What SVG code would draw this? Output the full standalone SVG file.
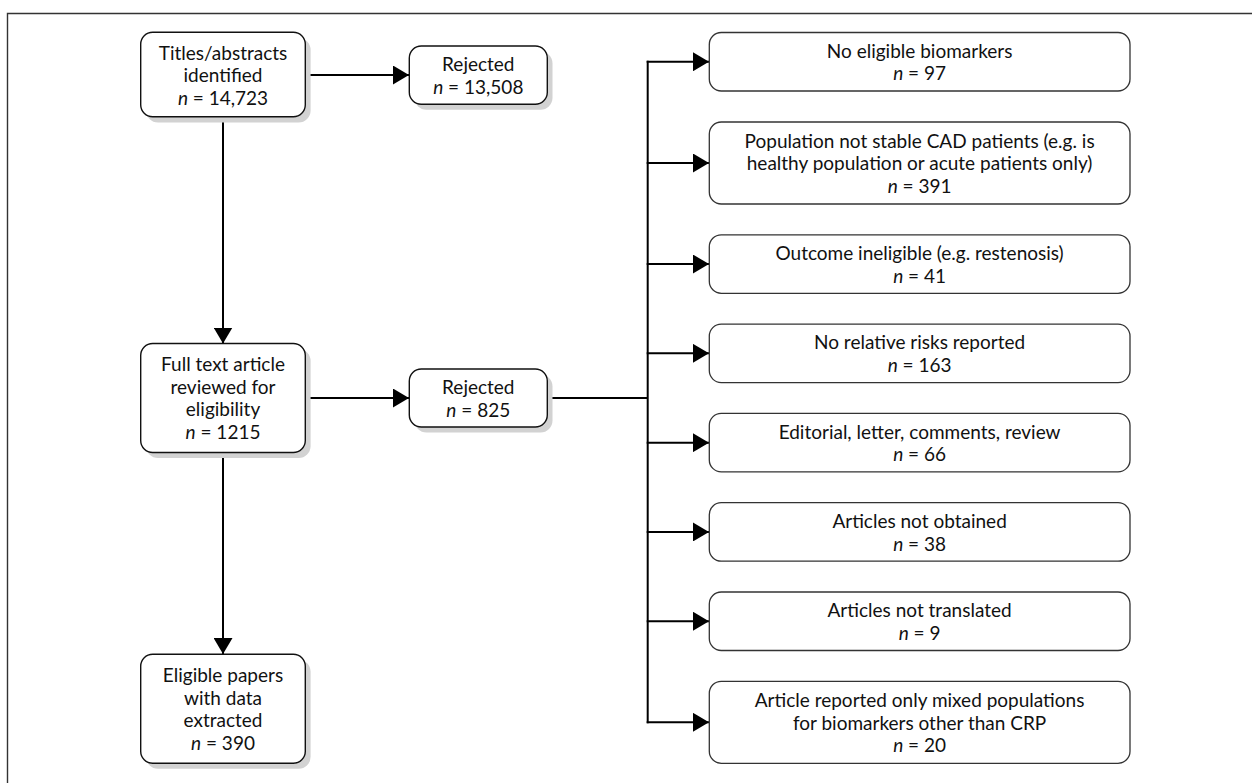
<svg xmlns="http://www.w3.org/2000/svg" width="1252" height="783" viewBox="0 0 1252 783">
<style>
  text { font-family: "Lato", "Open Sans", "Liberation Sans", sans-serif; font-size: 19px; fill: #111; text-anchor: middle; }
  .i { font-style: italic; }
  .box { fill: #fff; stroke: #111; stroke-width: 1.4; }
  .rbox { fill: #fff; stroke: #333; stroke-width: 1.3; }
  .shadow { fill: #d2d2d2; }
  .conn { stroke: #000; stroke-width: 2; fill: none; }
</style>
<defs>
  <marker id="arr" viewBox="0 0 16 19" refX="16" refY="9.5" markerWidth="16" markerHeight="19" markerUnits="userSpaceOnUse" orient="auto">
    <path d="M0,0 L16,9.5 L0,19 Z" fill="#000"/>
  </marker>
</defs>
<rect width="1252" height="783" fill="#fff"/>
<path d="M7.5,800 V13.5 H1260" fill="none" stroke="#333" stroke-width="1.4"/>

<g id="connectors">
  <line class="conn" x1="305.3" y1="75" x2="409" y2="75" marker-end="url(#arr)"/>
  <line class="conn" x1="223" y1="116.7" x2="223" y2="343.5" marker-end="url(#arr)"/>
  <line class="conn" x1="305.3" y1="398" x2="409" y2="398" marker-end="url(#arr)"/>
  <line class="conn" x1="223" y1="452.5" x2="223" y2="654" marker-end="url(#arr)"/>
  <line class="conn" x1="547.3" y1="398" x2="647.7" y2="398"/>
  <line class="conn" x1="647.7" y1="60.75" x2="647.7" y2="723.3"/>
  <line class="conn" x1="646.7" y1="61.75" x2="709" y2="61.75" marker-end="url(#arr)"/>
  <line class="conn" x1="646.7" y1="163" x2="709" y2="163" marker-end="url(#arr)"/>
  <line class="conn" x1="646.7" y1="264.05" x2="709" y2="264.05" marker-end="url(#arr)"/>
  <line class="conn" x1="646.7" y1="353.35" x2="709" y2="353.35" marker-end="url(#arr)"/>
  <line class="conn" x1="646.7" y1="442.65" x2="709" y2="442.65" marker-end="url(#arr)"/>
  <line class="conn" x1="646.7" y1="531.95" x2="709" y2="531.95" marker-end="url(#arr)"/>
  <line class="conn" x1="646.7" y1="621.25" x2="709" y2="621.25" marker-end="url(#arr)"/>
  <line class="conn" x1="646.7" y1="722.3" x2="709" y2="722.3" marker-end="url(#arr)"/>
</g>

<g id="n-titles">
  <rect class="shadow" x="146" y="38" width="164.6" height="84.4" rx="12"/>
  <rect class="box" x="140.7" y="32.3" width="164.6" height="84.4" rx="12"/>
  <text x="223" y="59.5">Titles/abstracts</text>
  <text x="223" y="82">identified</text>
  <text x="223" y="104.5"><tspan class="i">n</tspan> = 14,723</text>
</g>

<g id="n-rejected1">
  <rect class="shadow" x="414.5" y="51.5" width="138" height="58.3" rx="12"/>
  <rect class="box" x="409.3" y="46" width="138" height="58.3" rx="12"/>
  <text x="478.3" y="70.8">Rejected</text>
  <text x="478.3" y="93.5"><tspan class="i">n</tspan> = 13,508</text>
</g>

<g id="n-fulltext">
  <rect class="shadow" x="146" y="349" width="164.6" height="109" rx="12"/>
  <rect class="box" x="140.7" y="343.5" width="164.6" height="109" rx="12"/>
  <text x="223" y="371">Full text article</text>
  <text x="223" y="393.7">reviewed for</text>
  <text x="223" y="416.4">eligibility</text>
  <text x="223" y="439.1"><tspan class="i">n</tspan> = 1215</text>
</g>

<g id="n-rejected2">
  <rect class="shadow" x="414.5" y="374.5" width="138" height="58" rx="12"/>
  <rect class="box" x="409.3" y="369" width="138" height="58" rx="12"/>
  <text x="478.3" y="393.8">Rejected</text>
  <text x="478.3" y="416.5"><tspan class="i">n</tspan> = 825</text>
</g>

<g id="n-eligible">
  <rect class="shadow" x="146" y="659.8" width="164.6" height="109" rx="12"/>
  <rect class="box" x="140.7" y="654.3" width="164.6" height="109" rx="12"/>
  <text x="223" y="681.8">Eligible papers</text>
  <text x="223" y="704.5">with data</text>
  <text x="223" y="727.2">extracted</text>
  <text x="223" y="749.9"><tspan class="i">n</tspan> = 390</text>
</g>

<g id="r1">
  <rect class="rbox" x="709.3" y="32.5" width="420.7" height="58.5" rx="12"/>
  <text x="919.6" y="57.6">No eligible biomarkers</text>
  <text x="919.6" y="80.3"><tspan class="i">n</tspan> = 97</text>
</g>
<g id="r2">
  <rect class="rbox" x="709.3" y="122" width="420.7" height="82" rx="12"/>
  <text x="919.6" y="147.5">Population not stable CAD patients (e.g. is</text>
  <text x="919.6" y="170.2">healthy population or acute patients only)</text>
  <text x="919.6" y="192.9"><tspan class="i">n</tspan> = 391</text>
</g>
<g id="r3">
  <rect class="rbox" x="709.3" y="234.8" width="420.7" height="58.5" rx="12"/>
  <text x="919.6" y="259.9">Outcome ineligible (e.g. restenosis)</text>
  <text x="919.6" y="282.6"><tspan class="i">n</tspan> = 41</text>
</g>
<g id="r4">
  <rect class="rbox" x="709.3" y="324.1" width="420.7" height="58.5" rx="12"/>
  <text x="919.6" y="349.2">No relative risks reported</text>
  <text x="919.6" y="371.9"><tspan class="i">n</tspan> = 163</text>
</g>
<g id="r5">
  <rect class="rbox" x="709.3" y="413.4" width="420.7" height="58.5" rx="12"/>
  <text x="919.6" y="438.5">Editorial, letter, comments, review</text>
  <text x="919.6" y="461.2"><tspan class="i">n</tspan> = 66</text>
</g>
<g id="r6">
  <rect class="rbox" x="709.3" y="502.7" width="420.7" height="58.5" rx="12"/>
  <text x="919.6" y="527.8">Articles not obtained</text>
  <text x="919.6" y="550.5"><tspan class="i">n</tspan> = 38</text>
</g>
<g id="r7">
  <rect class="rbox" x="709.3" y="592" width="420.7" height="58.5" rx="12"/>
  <text x="919.6" y="617.1">Articles not translated</text>
  <text x="919.6" y="639.8"><tspan class="i">n</tspan> = 9</text>
</g>
<g id="r8">
  <rect class="rbox" x="709.3" y="681.3" width="420.7" height="82" rx="12"/>
  <text x="919.6" y="706.8">Article reported only mixed populations</text>
  <text x="919.6" y="729.5">for biomarkers other than CRP</text>
  <text x="919.6" y="752.2"><tspan class="i">n</tspan> = 20</text>
</g>
</svg>
